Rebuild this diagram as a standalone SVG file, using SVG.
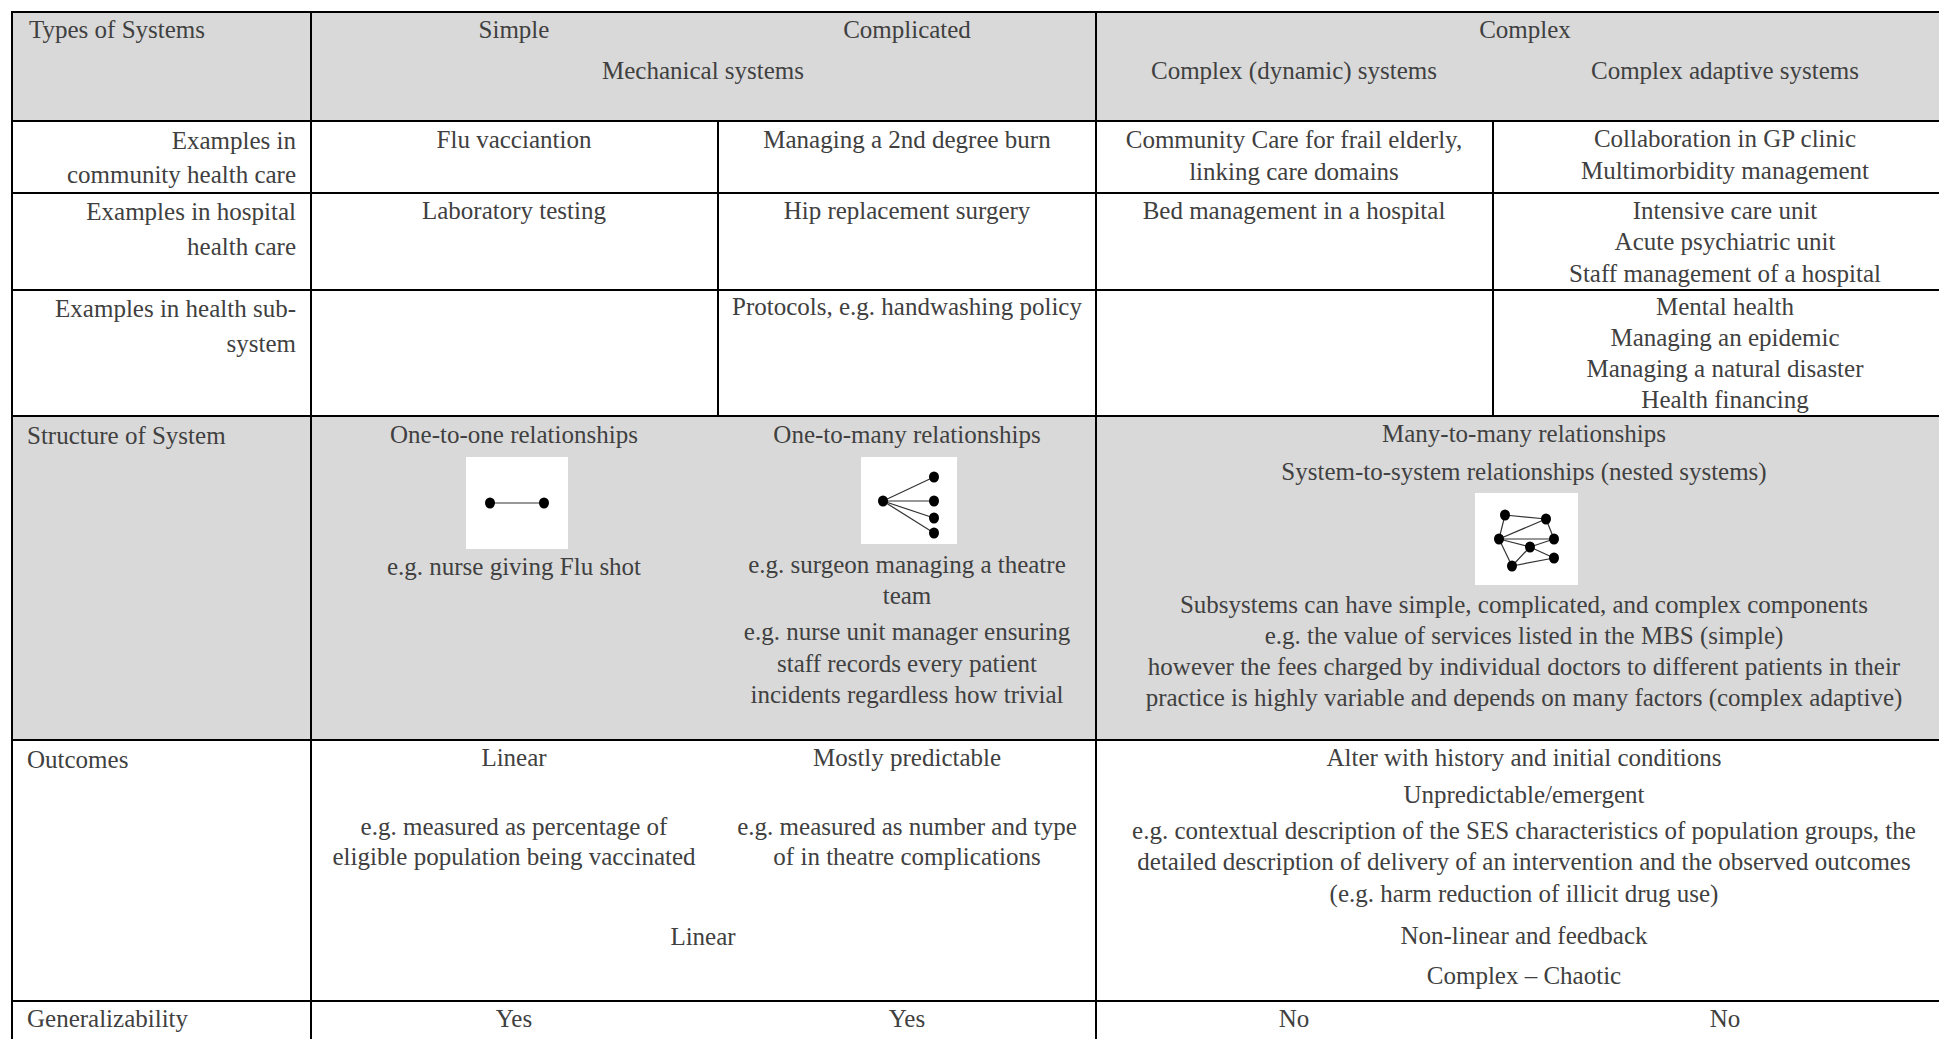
<svg xmlns="http://www.w3.org/2000/svg" width="1939" height="1039" viewBox="0 0 1939 1039">
<style>
.t{font-family:"Liberation Serif","Times New Roman",serif;font-size:25px;fill:#404040}
.c{text-anchor:middle}
.r{text-anchor:end}
.g{fill:#d9d9d9}
.w{fill:#ffffff}
.ln{stroke:#000;stroke-width:2;fill:none}
.e{stroke:#333;stroke-width:1.2;fill:none}
.dot{fill:#000}
</style>
<rect x="0" y="0" width="1939" height="1039" fill="#ffffff"/>
<g id="backgrounds">
<rect class="g" x="12" y="12" width="1927" height="109"/>
<rect class="g" x="12" y="416" width="1927" height="324"/>
</g>
<g id="row-header">
<text class="t" x="29" y="38">Types of Systems</text>
<text class="t c" x="514" y="38">Simple</text>
<text class="t c" x="907" y="38">Complicated</text>
<text class="t c" x="1525" y="38">Complex</text>
<text class="t c" x="703" y="79">Mechanical systems</text>
<text class="t c" x="1294" y="79">Complex (dynamic) systems</text>
<text class="t c" x="1725" y="79">Complex adaptive systems</text>
</g>
<g id="row-community">
<text class="t r" x="296" y="149">Examples in</text>
<text class="t r" x="296" y="183">community health care</text>
<text class="t c" x="514" y="148">Flu vacciantion</text>
<text class="t c" x="907" y="148">Managing a 2nd degree burn</text>
<text class="t c" x="1294" y="148">Community Care for frail elderly,</text>
<text class="t c" x="1294" y="180">linking care domains</text>
<text class="t c" x="1725" y="147">Collaboration in GP clinic</text>
<text class="t c" x="1725" y="179">Multimorbidity management</text>
</g>
<g id="row-hospital">
<text class="t r" x="296" y="220">Examples in hospital</text>
<text class="t r" x="296" y="255">health care</text>
<text class="t c" x="514" y="219">Laboratory testing</text>
<text class="t c" x="907" y="219">Hip replacement surgery</text>
<text class="t c" x="1294" y="219">Bed management in a hospital</text>
<text class="t c" x="1725" y="219">Intensive care unit</text>
<text class="t c" x="1725" y="250">Acute psychiatric unit</text>
<text class="t c" x="1725" y="282">Staff management of a hospital</text>
</g>
<g id="row-subsystem">
<text class="t r" x="296" y="317">Examples in health sub-</text>
<text class="t r" x="296" y="352">system</text>
<text class="t c" x="907" y="315">Protocols, e.g. handwashing policy</text>
<text class="t c" x="1725" y="315">Mental health</text>
<text class="t c" x="1725" y="346">Managing an epidemic</text>
<text class="t c" x="1725" y="377">Managing a natural disaster</text>
<text class="t c" x="1725" y="408">Health financing</text>
</g>
<g id="row-structure">
<text class="t" x="27" y="444">Structure of System</text>
<g id="structure-simple">
<text class="t c" x="514" y="443">One-to-one relationships</text>
<rect class="w" x="466" y="457" width="102" height="92"/>
<line class="e" x1="490" y1="503" x2="544" y2="503"/>
<ellipse class="dot" cx="490" cy="503" rx="5" ry="5.5"/>
<ellipse class="dot" cx="544" cy="503" rx="5" ry="5.5"/>
<text class="t c" x="514" y="575">e.g. nurse giving Flu shot</text>
</g>
<g id="structure-complicated">
<text class="t c" x="907" y="443">One-to-many relationships</text>
<rect class="w" x="861" y="457" width="96" height="87"/>
<line class="e" x1="883" y1="501" x2="934" y2="477"/>
<line class="e" x1="883" y1="501" x2="934" y2="501"/>
<line class="e" x1="883" y1="501" x2="934" y2="518"/>
<line class="e" x1="883" y1="501" x2="934" y2="533"/>
<ellipse class="dot" cx="883" cy="501" rx="5" ry="5.5"/>
<ellipse class="dot" cx="934" cy="477" rx="5" ry="5.5"/>
<ellipse class="dot" cx="934" cy="501" rx="5" ry="5.5"/>
<ellipse class="dot" cx="934" cy="518" rx="5" ry="5.5"/>
<ellipse class="dot" cx="934" cy="533" rx="5" ry="5.5"/>
<text class="t c" x="907" y="573">e.g. surgeon managing a theatre</text>
<text class="t c" x="907" y="604">team</text>
<text class="t c" x="907" y="640">e.g. nurse unit manager ensuring</text>
<text class="t c" x="907" y="672">staff records every patient</text>
<text class="t c" x="907" y="703">incidents regardless how trivial</text>
</g>
<g id="structure-complex">
<text class="t c" x="1524" y="442">Many-to-many relationships</text>
<text class="t c" x="1524" y="480">System-to-system relationships (nested systems)</text>
<rect class="w" x="1475" y="493" width="103" height="92"/>
<g>
<line class="e" x1="1505" y1="515" x2="1546" y2="519"/>
<line class="e" x1="1505" y1="515" x2="1499" y2="539"/>
<line class="e" x1="1499" y1="539" x2="1546" y2="519"/>
<line class="e" x1="1546" y1="519" x2="1554" y2="539"/>
<line class="e" x1="1499" y1="539" x2="1554" y2="539"/>
<line class="e" x1="1499" y1="539" x2="1530" y2="547"/>
<line class="e" x1="1499" y1="539" x2="1512" y2="566"/>
<line class="e" x1="1530" y1="547" x2="1554" y2="539"/>
<line class="e" x1="1530" y1="547" x2="1554" y2="558"/>
<line class="e" x1="1530" y1="547" x2="1512" y2="566"/>
<line class="e" x1="1512" y1="566" x2="1554" y2="558"/>
</g>
<ellipse class="dot" cx="1505" cy="515" rx="5" ry="5.5"/>
<ellipse class="dot" cx="1546" cy="519" rx="5" ry="5.5"/>
<ellipse class="dot" cx="1499" cy="539" rx="5" ry="5.5"/>
<ellipse class="dot" cx="1554" cy="539" rx="5" ry="5.5"/>
<ellipse class="dot" cx="1530" cy="547" rx="5" ry="5.5"/>
<ellipse class="dot" cx="1554" cy="558" rx="5" ry="5.5"/>
<ellipse class="dot" cx="1512" cy="566" rx="5" ry="5.5"/>
<text class="t c" x="1524" y="613">Subsystems can have simple, complicated, and complex components</text>
<text class="t c" x="1524" y="644">e.g. the value of services listed in the MBS (simple)</text>
<text class="t c" x="1524" y="675">however the fees charged by individual doctors to different patients in their</text>
<text class="t c" x="1524" y="706">practice is highly variable and depends on many factors (complex adaptive)</text>
</g>
</g>
<g id="row-outcomes">
<text class="t" x="27" y="768">Outcomes</text>
<text class="t c" x="514" y="766">Linear</text>
<text class="t c" x="514" y="835">e.g. measured as percentage of</text>
<text class="t c" x="514" y="865">eligible population being vaccinated</text>
<text class="t c" x="907" y="766">Mostly predictable</text>
<text class="t c" x="907" y="835">e.g. measured as number and type</text>
<text class="t c" x="907" y="865">of in theatre complications</text>
<text class="t c" x="703" y="945">Linear</text>
<text class="t c" x="1524" y="766">Alter with history and initial conditions</text>
<text class="t c" x="1524" y="803">Unpredictable/emergent</text>
<text class="t c" x="1524" y="839">e.g. contextual description of the SES characteristics of population groups, the</text>
<text class="t c" x="1524" y="870">detailed description of delivery of an intervention and the observed outcomes</text>
<text class="t c" x="1524" y="902">(e.g. harm reduction of illicit drug use)</text>
<text class="t c" x="1524" y="944">Non-linear and feedback</text>
<text class="t c" x="1524" y="984">Complex – Chaotic</text>
</g>
<g id="row-generalizability">
<text class="t" x="27" y="1027">Generalizability</text>
<text class="t c" x="514" y="1027">Yes</text>
<text class="t c" x="907" y="1027">Yes</text>
<text class="t c" x="1294" y="1027">No</text>
<text class="t c" x="1725" y="1027">No</text>
</g>
<g id="connectors">
<line class="ln" x1="11" y1="12" x2="1939" y2="12"/>
<line class="ln" x1="11" y1="121" x2="1939" y2="121"/>
<line class="ln" x1="11" y1="193" x2="1939" y2="193"/>
<line class="ln" x1="11" y1="290" x2="1939" y2="290"/>
<line class="ln" x1="11" y1="416" x2="1939" y2="416"/>
<line class="ln" x1="11" y1="740" x2="1939" y2="740"/>
<line class="ln" x1="11" y1="1001" x2="1939" y2="1001"/>
<line class="ln" x1="12" y1="11" x2="12" y2="1039"/>
<line class="ln" x1="311" y1="11" x2="311" y2="1039"/>
<line class="ln" x1="718" y1="121" x2="718" y2="416"/>
<line class="ln" x1="1096" y1="11" x2="1096" y2="1039"/>
<line class="ln" x1="1493" y1="121" x2="1493" y2="416"/>
</g>
</svg>
